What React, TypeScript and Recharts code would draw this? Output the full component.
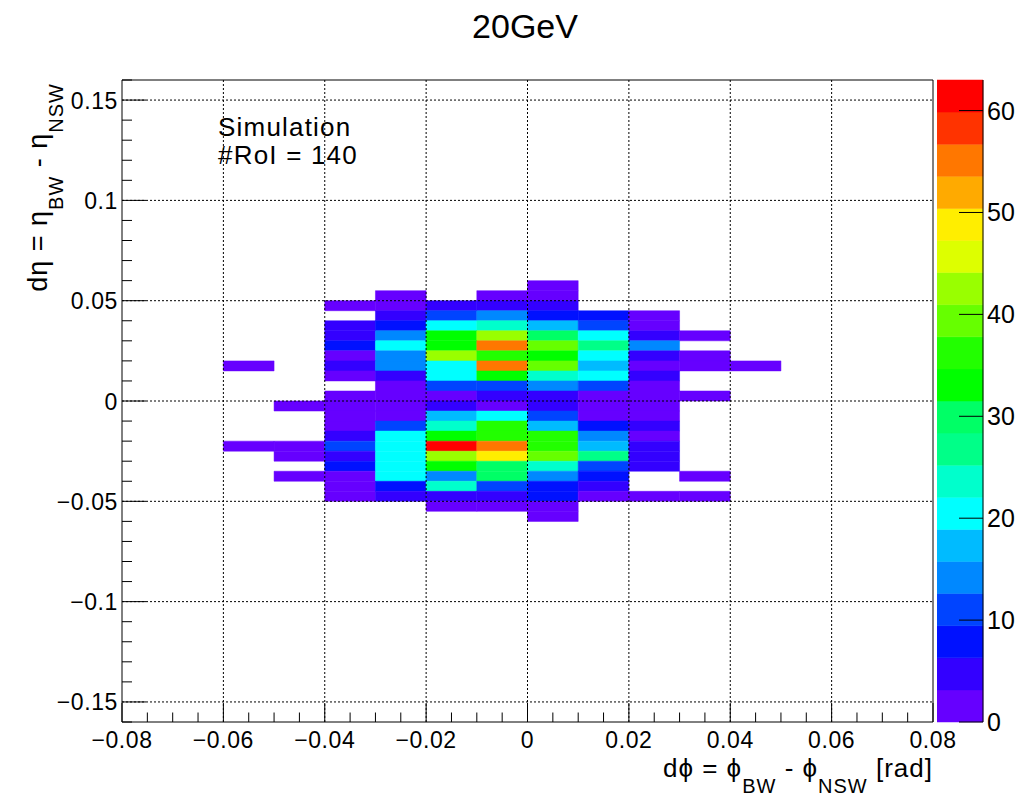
import React from "react";
import { ScatterChart, Scatter, XAxis, YAxis, ReferenceArea, ReferenceLine } from "recharts";

const FONT = "'Liberation Sans', Arial, Helvetica, sans-serif";

// lower edges of the dphi bins (width 0.01)
const phiBins = [-0.06, -0.05, -0.04, -0.03, -0.02, -0.01, 0, 0.01, 0.02, 0.03, 0.04];
const phiBinWidth = 0.01;

// lower edges of the deta bins, top row first (width 0.005)
const etaBins = [
  0.055, 0.05, 0.045, 0.04, 0.035, 0.03, 0.025, 0.02, 0.015, 0.01, 0.005, 0,
  -0.005, -0.01, -0.015, -0.02, -0.025, -0.03, -0.035, -0.04, -0.045, -0.05, -0.055, -0.06,
];
const etaBinWidth = 0.005;

// entries per bin, rows follow etaBins, columns follow phiBins
const counts = [
  [0, 0, 0, 0, 0, 0, 2, 0, 0, 0, 0],
  [0, 0, 0, 2, 0, 2, 2, 0, 0, 0, 0],
  [0, 0, 2, 2, 5, 5, 5, 0, 0, 0, 0],
  [0, 0, 0, 5, 11, 14, 8, 8, 2, 0, 0],
  [0, 0, 5, 8, 20, 24, 17, 11, 2, 0, 0],
  [0, 0, 5, 14, 33, 43, 30, 20, 5, 2, 0],
  [0, 0, 8, 20, 33, 55, 39, 27, 14, 0, 0],
  [0, 0, 2, 14, 43, 36, 33, 20, 5, 2, 0],
  [2, 0, 5, 14, 20, 55, 39, 17, 2, 2, 2],
  [0, 0, 2, 5, 20, 33, 24, 20, 5, 0, 0],
  [0, 0, 0, 2, 11, 11, 14, 11, 2, 0, 0],
  [0, 0, 2, 2, 2, 5, 5, 2, 2, 2, 0],
  [0, 2, 2, 2, 5, 2, 5, 2, 2, 0, 0],
  [0, 0, 2, 2, 17, 20, 11, 2, 2, 0, 0],
  [0, 0, 2, 11, 24, 36, 17, 8, 5, 0, 0],
  [0, 0, 5, 20, 33, 36, 36, 14, 2, 0, 0],
  [2, 2, 11, 20, 63, 55, 36, 17, 5, 0, 0],
  [0, 2, 5, 20, 43, 49, 39, 27, 5, 0, 0],
  [0, 0, 8, 20, 33, 30, 24, 11, 5, 0, 0],
  [0, 2, 2, 20, 14, 30, 14, 8, 0, 2, 0],
  [0, 0, 2, 8, 24, 11, 8, 5, 0, 0, 0],
  [0, 0, 2, 5, 5, 5, 8, 2, 2, 2, 0],
  [0, 0, 0, 0, 2, 2, 2, 0, 0, 0, 0],
  [0, 0, 0, 0, 0, 0, 2, 0, 0, 0, 0],
];

const xMajorTicks = [-0.08, -0.06, -0.04, -0.02, 0, 0.02, 0.04, 0.06, 0.08];
const xTickLabels = ["\u22120.08", "\u22120.06", "\u22120.04", "\u22120.02", "0", "0.02", "0.04", "0.06", "0.08"];
const yMajorTicks = [-0.15, -0.1, -0.05, 0, 0.05, 0.1, 0.15];
const yTickLabels = ["\u22120.15", "\u22120.1", "\u22120.05", "0", "0.05", "0.1", "0.15"];
const zTicks = [0, 10, 20, 30, 40, 50, 60];
const zMax = 63;

// 20 contour colours, lowest first
const palette = [
  "#6600ff", "#3300ff", "#0011ff", "#0044ff", "#0088ff", "#00bbff", "#00ffff", "#00ffcc", "#00ff88", "#00ff66",
  "#00ff00", "#22ff00", "#66ff00", "#99ff00", "#ddff00", "#ffee00", "#ffaa00", "#ff7700", "#ff3300", "#ff0000",
];

const xMinorTicks = Array.from({ length: 33 }, (_, i) => Math.round((-0.08 + i * 0.005) * 1e4) / 1e4);
const yMinorTicks = Array.from({ length: 33 }, (_, i) => Math.round((-0.16 + i * 0.01) * 1e4) / 1e4);

const colorFor = (v: number) =>
  palette[Math.min(palette.length - 1, Math.floor((v / zMax) * palette.length))];

const cells: any[] = [];
counts.forEach((row, r) => {
  row.forEach((v, c) => {
    if (v <= 0) return;
    const x1 = phiBins[c];
    const y1 = etaBins[r];
    cells.push({
      x1,
      x2: x1 + phiBinWidth,
      y1,
      y2: y1 + etaBinWidth,
      x: x1 + phiBinWidth / 2,
      y: y1 + etaBinWidth / 2,
      value: v,
    });
  });
});

const bands = palette.map((color, k) => ({
  color,
  lo: (k * zMax) / palette.length,
  hi: ((k + 1) * zMax) / palette.length,
  x: 0.5,
  y: ((k + 0.5) * zMax) / palette.length,
}));

const majorIndex = (list: number[], v: number) => list.findIndex((m) => Math.abs(m - v) < 1e-9);

const XTick = (props: any) => {
  const { x, y, payload } = props;
  const i = majorIndex(xMajorTicks, payload.value);
  return (
    <g>
      <line x1={x} y1={y} x2={x} y2={y - (i >= 0 ? 19 : 9.5)} stroke="#000" />
      {i >= 0 && (
        <text x={x} y={y + 26} textAnchor="middle" fontSize={23} letterSpacing={0.6} fontFamily={FONT} fill="#000">
          {xTickLabels[i]}
        </text>
      )}
    </g>
  );
};

const YTick = (props: any) => {
  const { x, y, payload } = props;
  const i = majorIndex(yMajorTicks, payload.value);
  return (
    <g>
      <line x1={x} y1={y} x2={x + (i >= 0 ? 24 : 10)} y2={y} stroke="#000" />
      {i >= 0 && (
        <text x={x - 4} y={y + 8.5} textAnchor="end" fontSize={23} letterSpacing={0.6} fontFamily={FONT} fill="#000">
          {yTickLabels[i]}
        </text>
      )}
    </g>
  );
};

const ZTick = (props: any) => {
  const { x, y, payload } = props;
  return (
    <g>
      <line x1={x} y1={y} x2={x - 24} y2={y} stroke="#000" />
      <text x={x + 4} y={y + 9} textAnchor="start" fontSize={25} fontFamily={FONT} fill="#000">
        {payload.value}
      </text>
    </g>
  );
};

const noMark = () => <g />;

export default function App() {
  return (
    <div style={{ position: "absolute", left: 0, top: 0, width: 1033, height: 800, background: "#fff" }}>
      <div style={{ position: "absolute", left: 0, top: 0 }}>
        <ScatterChart width={1033} height={800} margin={{ top: 80, right: 100, bottom: 77, left: 121 }}>
          <XAxis
            type="number"
            dataKey="x"
            domain={[-0.08, 0.08]}
            allowDataOverflow
            ticks={xMinorTicks}
            interval={0}
            height={1}
            tickSize={0}
            tickMargin={0}
            tickLine={false}
            axisLine={{ stroke: "#000" }}
            tick={XTick}
          />
          <YAxis
            type="number"
            dataKey="y"
            domain={[-0.16, 0.16]}
            allowDataOverflow
            ticks={yMinorTicks}
            interval={0}
            width={1}
            tickSize={0}
            tickMargin={0}
            tickLine={false}
            axisLine={{ stroke: "#000" }}
            tick={YTick}
          />
          {cells.map((c, i) => (
            <ReferenceArea
              key={"cell" + i}
              x1={c.x1}
              x2={c.x2}
              y1={c.y1}
              y2={c.y2}
              fill={colorFor(c.value)}
              fillOpacity={1}
              stroke={colorFor(c.value)}
              strokeWidth={0.5}
            />
          ))}
          {xMajorTicks.slice(1, -1).map((v) => (
            <ReferenceLine key={"gx" + v} x={v} stroke="#000" strokeDasharray="2 2" />
          ))}
          {yMajorTicks.map((v) => (
            <ReferenceLine key={"gy" + v} y={v} stroke="#000" strokeDasharray="2 2" />
          ))}
          <ReferenceLine x={0.08} stroke="#000" />
          <ReferenceLine y={0.16} stroke="#000" />
          <Scatter data={cells} shape={noMark} isAnimationActive={false} />
        </ScatterChart>
      </div>

      {/* colour scale */}
      <div style={{ position: "absolute", left: 937, top: 0 }}>
        <ScatterChart width={96} height={800} margin={{ top: 80, right: 49, bottom: 78, left: 0 }}>
          <XAxis type="number" dataKey="x" domain={[0, 1]} hide />
          <YAxis
            type="number"
            dataKey="y"
            orientation="right"
            domain={[0, zMax]}
            allowDataOverflow
            ticks={zTicks}
            interval={0}
            width={1}
            tickSize={0}
            tickMargin={0}
            tickLine={false}
            axisLine={{ stroke: "#000" }}
            tick={ZTick}
          />
          {bands.map((b, k) => (
            <ReferenceArea
              key={"band" + k}
              x1={0}
              x2={1}
              y1={b.lo}
              y2={b.hi}
              fill={b.color}
              fillOpacity={1}
              stroke={b.color}
              strokeWidth={0.5}
            />
          ))}
          <Scatter data={bands} shape={noMark} isAnimationActive={false} />
        </ScatterChart>
      </div>

      <svg
        width={1033}
        height={800}
        style={{ position: "absolute", left: 0, top: 0, pointerEvents: "none" }}
        fontFamily={FONT}
        fill="#000"
      >
        <text x={525} y={38} textAnchor="middle" fontSize={34}>
          20GeV
        </text>
        <text x={218} y={136} fontSize={26} letterSpacing={1.2}>
          Simulation
        </text>
        <text x={218} y={164} fontSize={26} letterSpacing={1.2}>
          #RoI = 140
        </text>
        <text x={933} y={777} textAnchor="end" fontSize={26} letterSpacing={1}>
          dϕ = ϕ
          <tspan fontSize={20} dy={16}>BW</tspan>
          <tspan dy={-16}> - ϕ</tspan>
          <tspan fontSize={20} dy={16}>NSW</tspan>
          <tspan dy={-16}> [rad]</tspan>
        </text>
        <g transform="translate(47,83) rotate(-90)">
          <text x={0} y={0} textAnchor="end" fontSize={27} letterSpacing={1}>
            dη = η
            <tspan fontSize={20} dy={16}>BW</tspan>
            <tspan dy={-16}> - η</tspan>
            <tspan fontSize={20} dy={16}>NSW</tspan>
          </text>
        </g>
      </svg>
    </div>
  );
}
